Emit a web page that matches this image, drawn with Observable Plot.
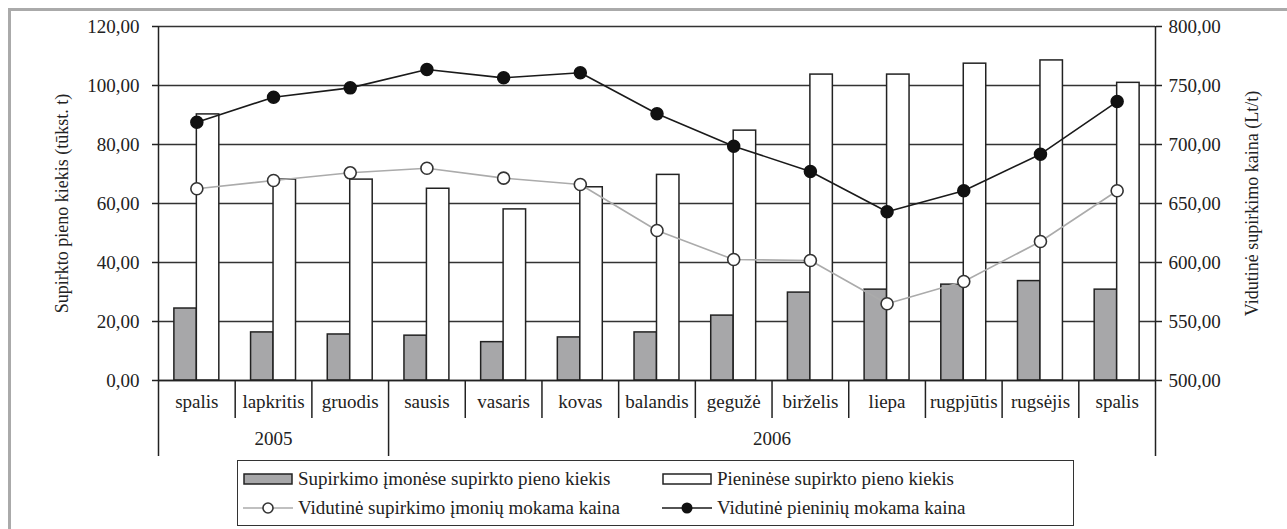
<!DOCTYPE html>
<html>
<head>
<meta charset="utf-8">
<script src="https://cdn.jsdelivr.net/npm/d3@7"></script>
<script src="https://cdn.jsdelivr.net/npm/@observablehq/plot@0.6"></script>
<style>
  body { margin: 0; background: #fff; width: 1287px; height: 529px; position: relative; overflow: hidden; font-family: "Liberation Serif", "Times New Roman", serif; color: #222; }
  #frame { position: absolute; left: 8px; top: 8px; right: 0; bottom: 0; border-top: 3px solid #aaa; border-left: 3px solid #aaa; z-index: 5; pointer-events: none; }
  #chart { position: absolute; left: 0; top: 0; }
  #legend { position: absolute; left: 237px; top: 460px; width: 835px; height: 64px; border: 1.5px solid #333; background: #fff; }
  .item { position: absolute; display: flex; align-items: center; font-size: 19px; white-space: nowrap; height: 20px; }
  .item svg { margin-right: 5px; }
</style>
</head>
<body>
<div id="frame"></div>
<div id="chart"></div>
<div id="legend"></div>
<script>
// ---- data ----
const categories = ["spalis", "lapkritis", "gruodis", "sausis", "vasaris", "kovas", "balandis", "gegužė", "birželis", "liepa", "rugpjūtis", "rugsėjis", "spalis"];
const yearLabels = ["2005", "2006"];
const monthsPerYear = [3, 10];
const supirkimoKiekis = [24.4, 16.3, 15.6, 15.2, 13.0, 14.6, 16.3, 22.0, 29.8, 30.8, 32.5, 33.7, 30.8];
const pieninesKiekis = [90.2, 68.1, 68.1, 65.0, 58.0, 65.5, 69.7, 84.7, 103.7, 103.7, 107.4, 108.5, 100.9];
const supirkimoKaina = [662.5, 669.5, 676.0, 679.9, 671.5, 666.1, 627.1, 602.5, 601.7, 565.0, 583.9, 617.8, 660.8];
const pieniniuKaina = [718.9, 740.1, 748.0, 763.6, 756.5, 760.8, 726.0, 698.6, 677.1, 643.0, 660.8, 691.8, 736.4];
const leftTicks = [0, 20, 40, 60, 80, 100, 120];
const rightTicks = [500, 550, 600, 650, 700, 750, 800];
const leftTitle = "Supirkto pieno kiekis (tūkst. t)";
const rightTitle = "Vidutinė supirkimo kaina (Lt/t)";
const seriesNames = ["Supirkimo įmonėse supirkto pieno kiekis", "Pieninėse supirkto pieno kiekis", "Vidutinė supirkimo įmonių mokama kaina", "Vidutinė pieninių mokama kaina"];

// ---- helpers ----
const fmt = d => d3.format(".2f")(d).replace(".", ",");
const rMin = rightTicks[0], rMax = rightTicks[rightTicks.length - 1];
const lMin = leftTicks[0], lMax = leftTicks[leftTicks.length - 1];
const toLeft = v => lMin + (v - rMin) * (lMax - lMin) / (rMax - rMin);
const fromLeft = v => rMin + (v - lMin) * (rMax - rMin) / (lMax - lMin);

const rows = categories.map((c, i) => ({
  i, c,
  gray: supirkimoKiekis[i],
  white: pieninesKiekis[i],
  pGray: toLeft(supirkimoKaina[i]),
  pBlack: toLeft(pieniniuKaina[i])
}));
const n = categories.length;
const barW = 0.293; // bar width as fraction of a category
let acc = 0;
const years = yearLabels.map((y, j) => { const s = acc; acc += monthsPerYear[j]; return {label: y, start: s, end: acc - 1}; });
const outerEdges = [-0.5, n - 0.5];
const yearEdges = years.slice(0, -1).map(y => y.end + 0.5);
const shortEdges = d3.range(1, n).map(k => k - 0.5).filter(b => !yearEdges.includes(b));

const W = 1287, H = 458, mL = 158, mR = 132, mT = 26, mB = 78;
const frameH = H - mT - mB;
const ink = "#222";

const chart = Plot.plot({
  width: W, height: H,
  marginLeft: mL, marginRight: mR, marginTop: mT, marginBottom: mB,
  style: { fontFamily: "'Liberation Serif', 'Times New Roman', serif", fontSize: "19px", color: ink, background: "transparent", overflow: "visible" },
  x: { type: "linear", domain: [-0.5, n - 0.5], axis: null },
  y: { domain: [lMin, lMax], axis: null },
  marks: [
    Plot.ruleY(leftTicks, { stroke: "#333", strokeWidth: 1.5 }),
    Plot.rectY(rows, { x1: d => d.i - barW, x2: d => d.i, y1: 0, y2: "gray", fill: "#a7a7a9", stroke: ink, strokeWidth: 1.5 }),
    Plot.rectY(rows, { x1: d => d.i, x2: d => d.i + barW, y1: 0, y2: "white", fill: "#fff", stroke: ink, strokeWidth: 1.5 }),
    Plot.ruleY([0], { stroke: ink, strokeWidth: 1.5 }),
    // axis lines and category table
    Plot.ruleX(outerEdges, { x: d => d, insetBottom: -76, stroke: ink, strokeWidth: 1.5 }),
    Plot.ruleX(yearEdges, { x: d => d, insetTop: frameH, insetBottom: -76, stroke: ink, strokeWidth: 1.5 }),
    Plot.ruleX(shortEdges, { x: d => d, insetTop: frameH, insetBottom: -38, stroke: ink, strokeWidth: 1.5 }),
    Plot.text(rows, { x: "i", text: "c", frameAnchor: "bottom", dy: 27, fontSize: 19 }),
    Plot.text(years, { x: d => (d.start + d.end) / 2, text: "label", frameAnchor: "bottom", dy: 64, fontSize: 19 }),
    // axes
    Plot.axisY(leftTicks, { anchor: "left", tickFormat: fmt, tickSize: 6, tickPadding: 13, label: null, fontSize: 19, stroke: ink, strokeWidth: 1.5 }),
    Plot.axisY(rightTicks.map(toLeft), { anchor: "right", tickFormat: d => fmt(fromLeft(d)), tickSize: 6, tickPadding: 7, label: null, fontSize: 19, stroke: ink, strokeWidth: 1.5 }),
    Plot.text([leftTitle], { frameAnchor: "left", rotate: -90, textAnchor: "middle", dx: -96, fontSize: 18 }),
    Plot.text([rightTitle], { frameAnchor: "right", rotate: -90, textAnchor: "middle", dx: 97, fontSize: 18 }),
    // price lines
    Plot.line(rows, { x: "i", y: "pGray", stroke: "#ababab", strokeWidth: 1.6 }),
    Plot.dot(rows, { x: "i", y: "pGray", r: 6, fill: "#fff", stroke: "#333", strokeWidth: 1.6 }),
    Plot.line(rows, { x: "i", y: "pBlack", stroke: "#1a1a1a", strokeWidth: 1.6 }),
    Plot.dot(rows, { x: "i", y: "pBlack", r: 6, fill: "#111", stroke: "#111" })
  ]
});
document.getElementById("chart").appendChild(chart);

// ---- legend ----
const swatches = [
  `<svg width="50" height="14"><rect x="1" y="2" width="48" height="10" fill="#a7a7a9" stroke="#222" stroke-width="1.5"/></svg>`,
  `<svg width="50" height="14"><rect x="1" y="2" width="48" height="10" fill="#fff" stroke="#222" stroke-width="1.5"/></svg>`,
  `<svg width="50" height="14"><line x1="0" x2="50" y1="7" y2="7" stroke="#ababab" stroke-width="1.6"/><circle cx="25" cy="7" r="5" fill="#fff" stroke="#333" stroke-width="1.6"/></svg>`,
  `<svg width="50" height="14"><line x1="0" x2="50" y1="7" y2="7" stroke="#1a1a1a" stroke-width="1.6"/><circle cx="25" cy="7" r="5.5" fill="#111"/></svg>`
];
const pos = [[5, 8], [424, 8], [5, 37], [424, 37]];
const legend = document.getElementById("legend");
seriesNames.forEach((name, k) => {
  const d = document.createElement("div");
  d.className = "item";
  d.style.left = pos[k][0] + "px";
  d.style.top = pos[k][1] + "px";
  d.innerHTML = swatches[k] + `<span>${name}</span>`;
  legend.appendChild(d);
});
</script>
</body>
</html>
